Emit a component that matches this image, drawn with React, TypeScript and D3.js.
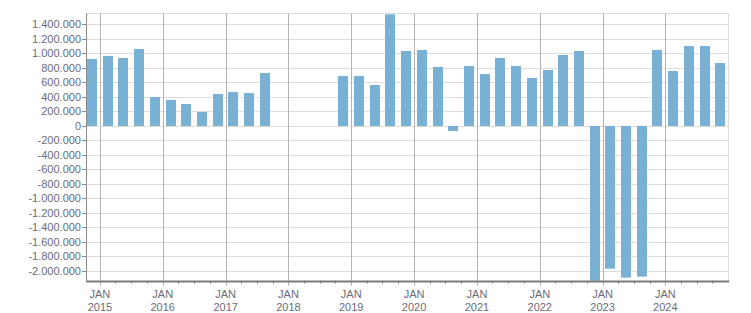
import React from "react";
import * as d3 from "d3";

// Quarterly values, Q4 2014 .. Q4 2024 (null = no data)
const quarters: string[] = [
  "2014Q4",
  "2015Q1", "2015Q2", "2015Q3", "2015Q4",
  "2016Q1", "2016Q2", "2016Q3", "2016Q4",
  "2017Q1", "2017Q2", "2017Q3", "2017Q4",
  "2018Q1", "2018Q2", "2018Q3", "2018Q4",
  "2019Q1", "2019Q2", "2019Q3", "2019Q4",
  "2020Q1", "2020Q2", "2020Q3", "2020Q4",
  "2021Q1", "2021Q2", "2021Q3", "2021Q4",
  "2022Q1", "2022Q2", "2022Q3", "2022Q4",
  "2023Q1", "2023Q2", "2023Q3", "2023Q4",
  "2024Q1", "2024Q2", "2024Q3", "2024Q4",
];
const values: (number | null)[] = [
  925000,
  966000, 938000, 1062000, 400000,
  359000, 303000, 193000, 441000,
  469000, 455000, 731000, null,
  null, null, null, 690000,
  690000, 566000, 1540000, 1034000,
  1048000, 814000, -69000, 828000,
  717000, 938000, 828000, 662000,
  772000, 979000, 1034000, -2140000,
  -1968000, -2092000, -2078000, 1048000,
  759000, 1103000, 1103000, 869000,
];
const yTicks: number[] = [
  -2000000, -1800000, -1600000, -1400000, -1200000, -1000000, -800000, -600000,
  -400000, -200000, 0, 200000, 400000, 600000, 800000, 1000000, 1200000, 1400000,
];
const yearTicks: number[] = [2015, 2016, 2017, 2018, 2019, 2020, 2021, 2022, 2023, 2024];
const monthLabel = "JAN";

const W = 751;
const H = 313;
const left = 86;
const right = 728.3;
const top = 13.3;
const bottom = 280.7;

const locale = d3.formatLocale({
  decimal: ",",
  thousands: ".",
  grouping: [3],
  currency: ["", ""],
  minus: "-",
} as any);
const fmt = locale.format(",d");

function qStart(q: string): Date {
  const y = +q.slice(0, 4);
  const n = +q.slice(5);
  return new Date(y, (n - 1) * 3, 1);
}

export default function App() {
  const x = d3
    .scaleTime()
    .domain([new Date(2014, 9, 12), new Date(2025, 0, 1)])
    .range([left, right]);
  const y = d3.scaleLinear().domain([-2134000, 1554000]).range([bottom, top]);

  const minorTicks = d3.timeMonth
    .every(3)!
    .range(new Date(2015, 0, 1), new Date(2025, 0, 2))
    .filter((d) => d.getMonth() !== 0);

  const textColor = "#6b6b78";
  const font = "Tahoma, 'Liberation Sans', Arial, sans-serif";
  const barW = 10;

  return (
    <svg
      width={W}
      height={H}
      style={{ position: "absolute", left: 0, top: 0, background: "#fff" }}
      fontFamily={font}
    >
      {/* horizontal grid */}
      {yTicks.map((t) => (
        <line
          key={"g" + t}
          x1={left}
          x2={right}
          y1={Math.round(y(t)) + 0.5}
          y2={Math.round(y(t)) + 0.5}
          stroke="#dcdcdc"
          strokeWidth={1}
        />
      ))}
      {/* top border */}
      <line x1={left} x2={right} y1={Math.round(top) + 0.5} y2={Math.round(top) + 0.5} stroke="#dcdcdc" />
      {/* right border */}
      <line x1={Math.round(right) + 0.5} x2={Math.round(right) + 0.5} y1={top} y2={bottom} stroke="#dcdcdc" />
      {/* vertical year grid */}
      {yearTicks.map((yr) => {
        const xx = Math.round(x(new Date(yr, 0, 1))) + 0.5;
        return (
          <line key={"v" + yr} x1={xx} x2={xx} y1={top} y2={bottom + 5} stroke="#b4b4b4" strokeWidth={1} />
        );
      })}
      {/* bars */}
      {quarters.map((q, i) => {
        const v = values[i];
        if (v === null) return null;
        const s = qStart(q);
        const e = d3.timeMonth.offset(s, 3);
        const cx = (x(s) + x(e)) / 2;
        const y0 = y(0);
        const y1 = Math.max(top, Math.min(bottom, y(v)));
        return (
          <rect
            key={q}
            x={Math.round(cx - barW / 2)}
            width={barW}
            y={Math.min(y0, y1)}
            height={Math.abs(y1 - y0)}
            fill="#78b1d3"
          />
        );
      })}
      {/* minor x ticks */}
      {minorTicks.map((d) => {
        const xx = Math.round(x(d)) + 0.5;
        return <line key={"m" + d.getTime()} x1={xx} x2={xx} y1={bottom} y2={bottom + 3} stroke="#888" />;
      })}
      {/* y axis */}
      <line x1={left + 0.5} x2={left + 0.5} y1={top} y2={bottom} stroke="#8a8a8a" />
      {yTicks.map((t) => {
        const yy = Math.round(y(t)) + 0.5;
        return (
          <g key={"yt" + t}>
            <line x1={left - 4} x2={left} y1={yy} y2={yy} stroke="#8a8a8a" />
            <text x={81} y={yy} dy="0.35em" textAnchor="end" fontSize={11} fill={textColor}>
              {fmt(t)}
            </text>
          </g>
        );
      })}
      {/* x axis */}
      <line x1={left} x2={right + 1} y1={Math.round(bottom) + 0.5} y2={Math.round(bottom) + 0.5} stroke="#7a7a7a" strokeWidth={2} />
      {yearTicks.map((yr) => {
        const xx = x(new Date(yr, 0, 1));
        return (
          <g key={"xl" + yr}>
            <text x={xx} y={298} textAnchor="middle" fontSize={11} fill={textColor}>
              {monthLabel}
            </text>
            <text x={xx} y={311} textAnchor="middle" fontSize={11} fill={textColor}>
              {yr}
            </text>
          </g>
        );
      })}
    </svg>
  );
}
